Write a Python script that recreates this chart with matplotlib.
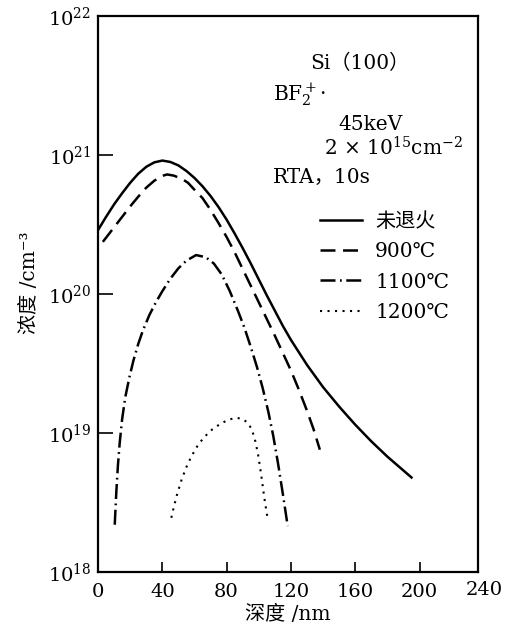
import numpy as np
import matplotlib
matplotlib.use("Agg")
import matplotlib.pyplot as plt
from matplotlib.ticker import FixedLocator, NullLocator

plt.rcParams['font.family'] = ['DejaVu Serif', 'Noto Sans CJK SC']
plt.rcParams['mathtext.fontset'] = 'dejavuserif'

# depth (nm) and log10 of concentration (cm^-3)
unannealed_x = [0, 5, 10, 15, 20, 25, 30, 35, 40, 45, 50, 55, 60, 65, 70, 75, 80,
                85, 90, 95, 100, 105, 110, 115, 120, 130, 140, 150, 160, 170, 180,
                190, 195]
unannealed_log = [20.46, 20.555, 20.645, 20.725, 20.80, 20.865, 20.915, 20.947,
                  20.96, 20.95, 20.925, 20.885, 20.835, 20.775, 20.705, 20.625,
                  20.535, 20.435, 20.33, 20.22, 20.105, 19.99, 19.88, 19.77, 19.67,
                  19.49, 19.33, 19.19, 19.06, 18.94, 18.83, 18.73, 18.68]

t900_x = [3, 5, 10, 15, 20, 25, 30, 35, 40, 43, 47, 52, 56, 60, 65, 70, 75, 80,
          85, 90, 95, 100, 105, 110, 115, 120, 125, 130, 134, 138]
t900_log = [20.375, 20.405, 20.48, 20.555, 20.63, 20.70, 20.765, 20.815, 20.85,
            20.86, 20.852, 20.83, 20.80, 20.75, 20.69, 20.605, 20.51, 20.41,
            20.30, 20.18, 20.06, 19.94, 19.82, 19.70, 19.575, 19.45, 19.31,
            19.16, 19.03, 18.88]

t1100_x = [10.4, 11.4, 12.4, 13.5, 15, 17, 19.5, 22, 25, 28, 32, 36, 40, 45, 50,
           55, 61, 67, 72, 77, 82, 87, 91, 95, 99, 102.5, 106, 109, 112, 115, 118]
t1100_log = [18.34, 18.58, 18.77, 18.93, 19.10, 19.26, 19.40, 19.52, 19.64, 19.74,
             19.85, 19.94, 20.02, 20.11, 20.185, 20.24, 20.28, 20.265, 20.22,
             20.14, 20.02, 19.88, 19.76, 19.62, 19.47, 19.32, 19.15, 18.98, 18.78,
             18.56, 18.33]

t1200_x = [45.6, 47, 49, 52, 55, 58, 62, 66, 71, 76, 81, 86, 90, 93, 95.5, 97.5,
           99.5, 101.5, 103.5, 105.7]
t1200_log = [18.39, 18.46, 18.55, 18.665, 18.755, 18.83, 18.91, 18.97, 19.025,
             19.065, 19.095, 19.11, 19.10, 19.075, 19.03, 18.96, 18.85, 18.70,
             18.53, 18.37]

labels = ['未退火', '900℃', '1100℃', '1200℃']
x_ticks = [0, 40, 80, 120, 160, 200]
y_ticks = [1e18, 1e19, 1e20, 1e21, 1e22]

fig = plt.figure(figsize=(5.17, 6.28), dpi=100)
ax = fig.add_axes([0.1896, 0.0892, 0.735, 0.8853])

ax.plot(unannealed_x, 10 ** np.array(unannealed_log), color='black', lw=1.8,
        label=labels[0])
ax.plot(t900_x, 10 ** np.array(t900_log), color='black', lw=1.8,
        linestyle=(0, (6, 3)), label=labels[1])
ax.plot(t1100_x, 10 ** np.array(t1100_log), color='black', lw=1.8,
        linestyle=(0, (6, 1.8, 0.7, 1.8)), label=labels[2])
ax.plot(t1200_x, 10 ** np.array(t1200_log), color='black', lw=1.5,
        linestyle=(0, (1, 2.6)), label=labels[3])

ax.set_yscale('log')
ax.set_ylim(1e18, 1e22)
ax.set_xlim(0, 236.4)
ax.yaxis.set_major_locator(FixedLocator(y_ticks))
ax.yaxis.set_minor_locator(NullLocator())
ax.set_xticks(x_ticks)
tfs = 14
ax.tick_params(axis='y', direction='in', length=11, width=1.2, labelsize=tfs, pad=5)
ax.tick_params(axis='x', direction='in', length=7, width=1.2, labelsize=tfs, pad=8)
ax.text(240, 1e18 / 10 ** 0.065, '240', fontsize=tfs, ha='center', va='top')
for sp in ax.spines.values():
    sp.set_linewidth(1.6)

fs = 14.5
ax.set_xlabel('深度 /nm', fontsize=fs, labelpad=3)
ax.set_ylabel('浓度 /cm⁻³', fontsize=fs)
ax.yaxis.set_label_coords(-0.155, 0.52)

ax.text(0.688, 0.915, 'Si（100）', transform=ax.transAxes, fontsize=fs,
        ha='center', va='center')
ax.text(0.461, 0.858, r'BF$_2^+$·', transform=ax.transAxes, fontsize=fs,
        ha='left', va='center')
ax.text(0.632, 0.804, '45keV', transform=ax.transAxes, fontsize=fs,
        ha='left', va='center')
ax.text(0.595, 0.763, r'2 × 10$^{15}$cm$^{-2}$', transform=ax.transAxes,
        fontsize=fs, ha='left', va='center')
ax.text(0.461, 0.709, 'RTA，10s', transform=ax.transAxes, fontsize=fs,
        ha='left', va='center')

ax.legend(loc='upper left', bbox_to_anchor=(0.557, 0.665), frameon=False,
          fontsize=fs, borderpad=0, handlelength=2.1, handletextpad=0.65,
          labelspacing=0.55)

fig.savefig('out.png', dpi=100)
